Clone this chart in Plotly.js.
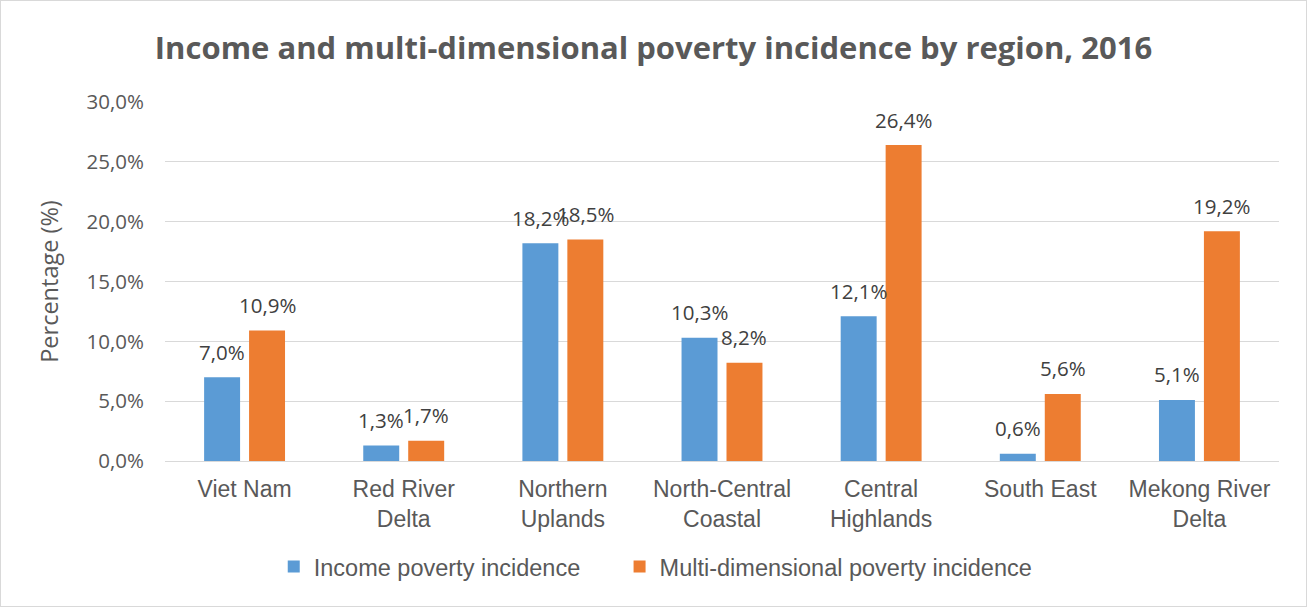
<!DOCTYPE html>
<html><head><meta charset="utf-8">
<script src="https://cdn.plot.ly/plotly-3.0.1.min.js"></script>
<style>html,body{margin:0;padding:0;background:#fff}#c{width:1305px;height:605px;border:1px solid #d9d9d9}</style>
</head><body><div id="c"></div>
<script>
const categories = ["Viet Nam","Red River<br>Delta","Northern<br>Uplands","North-Central<br>Coastal","Central<br>Highlands","South East","Mekong River<br>Delta"];
const incomePoverty = [7.0,1.3,18.2,10.3,12.1,0.6,5.1];
const multiPoverty = [10.9,1.7,18.5,8.2,26.4,5.6,19.2];
const yTickVals = [0,5,10,15,20,25,30];
const yTickText = ["0,0%","5,0%","10,0%","15,0%","20,0%","25,0%","30,0%"];
const fmt = v => v.toFixed(1).replace('.', ',') + '%';
const labelFont = {family:'"Open Sans", sans-serif', size:20.5, color:'#404040'};
const margin = {l:164, r:27, t:101, b:145};
const W = 1305, bargap = 0.435;
const slot = (W - margin.l - margin.r) / categories.length * (1 - bargap) / 2;
const traces = [
 {type:'bar', name:'Income poverty incidence', x:categories, y:incomePoverty, marker:{color:'#5b9bd5'}, hoverinfo:'x+y', legend:'legend'},
 {type:'bar', name:'Multi-dimensional poverty incidence', x:categories, y:multiPoverty, marker:{color:'#ed7d31'}, hoverinfo:'x+y', legend:'legend2'}
];
const annotations = [];
[[incomePoverty,-1],[multiPoverty,1]].forEach(([arr,side]) => {
  arr.forEach((v,i) => annotations.push({x:categories[i], y:v, xref:'x', yref:'y', text:fmt(v), showarrow:false,
    xanchor:'center', yanchor:'bottom', xshift:side*slot/2, yshift:9.5, font:labelFont}));
});
const legendFont = {family:'"Liberation Sans", Arial, sans-serif', size:23.5, color:'#595959'};
const layout = {
 width:W, height:605,
 margin:margin,
 paper_bgcolor:'#fff', plot_bgcolor:'#fff',
 title:{text:'<b>Income and multi-dimensional poverty incidence by region, 2016</b>', x:0.5, xanchor:'center', y:0.922, yanchor:'middle',
   font:{family:'"Open Sans", sans-serif', size:31, color:'#595959'}},
 barmode:'group', bargap:bargap, bargroupgap:0.2,
 xaxis:{tickfont:{family:'"Liberation Sans", Arial, sans-serif', size:23, color:'#595959'}, showline:false, ticks:'', showgrid:false,
   ticklabelstandoff:12},
 yaxis:{range:[0,30], tickvals:yTickVals, ticktext:yTickText, showgrid:true, gridcolor:'#d9d9d9', gridwidth:1,
   zeroline:true, zerolinecolor:'#d9d9d9', zerolinewidth:1, ticks:'', ticklen:0, ticklabelstandoff:20,
   tickfont:{family:'"Open Sans", sans-serif', size:20.5, color:'#595959'},
   title:{text:'Percentage (%)', standoff:21, font:{family:'"Open Sans", sans-serif', size:23.5, color:'#595959'}}},
 legend:{orientation:'h', xref:'container', yref:'container', x:0.209, xanchor:'left', y:0.065, yanchor:'middle',
   font:legendFont, itemwidth:20},
 legend2:{orientation:'h', xref:'container', yref:'container', x:0.474, xanchor:'left', y:0.065, yanchor:'middle',
   font:legendFont, itemwidth:20},
 annotations:annotations,
 showlegend:true
};
Plotly.newPlot('c', traces, layout, {displayModeBar:false});
</script></body></html>
